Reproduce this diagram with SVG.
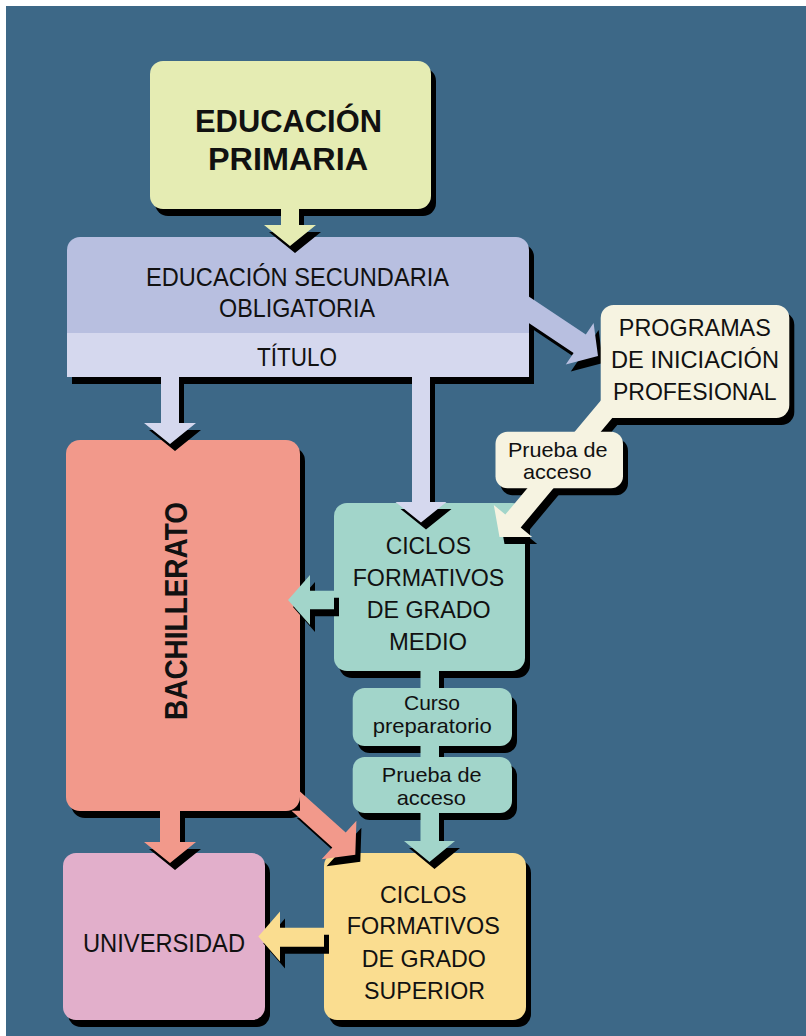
<svg xmlns="http://www.w3.org/2000/svg" width="806" height="1036" viewBox="0 0 806 1036">
<style>
text{font-family:"Liberation Sans",Arial,Helvetica,sans-serif;fill:#111;text-anchor:middle}
.b{font-weight:bold}
.sh{fill:#000}
.s32{font-size:32px}
.s26{font-size:26.5px}
.s25{font-size:25.5px}
.s24{font-size:24.5px}
.s21{font-size:21px}
.prim{fill:#E5ECB3}
.lavd{fill:#B8BFE0}
.lavl{fill:#D5D8EE}
.crm{fill:#F6F3E1}
.teal{fill:#A2D5CA}
.salm{fill:#F2998B}
.pink{fill:#E2AFCB}
.yell{fill:#FADD90}
</style>
<defs>
<polygon id="a1" points="281,209 299,209 299,225 316,225 290,246 264,225 281,225"/>
<polygon id="a2" points="161,377 179,377 179,423 196,423 170,444 144,423 161,423"/>
<polygon id="a3" points="412,377 430,377 430,502 446.5,502 421,522.5 395.5,502 412,502"/>
<polygon id="a4" points="334,590.7 334,609.3 310,609.3 310,625 288,600 310,575 310,590.7"/>
<polygon id="a5" points="420.5,671 439,671 439,841 455,841 429.5,862 404,841 420.5,841"/>
<polygon id="a6" points="324,927.7 324,946.7 280,946.7 280,961.5 258.3,936.5 280,911.5 280,927.7"/>
<polygon id="a7" points="160,811 180,811 180,842 196,842 170,863 144,842 160,842"/>
<polygon id="a8" points="300,791.5 345.7,832.6 356.4,820.7 355.3,854.7 321.6,859.3 332.3,847.4 291.5,810.7 300,810.7"/>
<polygon id="a9" points="528,296 585.8,334.6 593.6,323 598,356 565.8,364.6 573.6,353 528,322.6"/>
<polygon id="a10" points="605.4,395 631.5,395 520.7,527.4 532.2,537.1 499.5,537.1 493.8,505 505.3,514.6"/>
</defs>
<rect x="0" y="0" width="806" height="1036" fill="#fff"/>
<rect x="6" y="6" width="800" height="1030" fill="#3D6887"/>
<g id="shadows" class="sh" transform="translate(5,7)">
<rect x="150" y="61" width="281" height="148" rx="13"/>
<path d="M67,250 A13,13 0 0 1 80,237 H516 A13,13 0 0 1 529,250 V377 H67 Z"/>
<rect x="66" y="440" width="234" height="371" rx="14"/>
<rect x="334" y="503" width="191" height="168" rx="13"/>
<rect x="63" y="853" width="202" height="167" rx="13"/>
<rect x="324" y="853" width="202" height="167" rx="13"/>
<rect x="600.7" y="305" width="188.6" height="113" rx="13"/>
<rect x="495.5" y="431.7" width="127.5" height="56.5" rx="12"/>
<rect x="352.7" y="688" width="159.3" height="58" rx="12"/>
<rect x="352.7" y="757" width="159.3" height="56" rx="12"/>
</g>
<g id="primaria">
<rect class="prim" x="150" y="61" width="281" height="148" rx="13"/>
<text class="b s32" x="288.5" y="132" textLength="187" lengthAdjust="spacingAndGlyphs">EDUCACIÓN</text>
<text class="b s32" x="288" y="170" textLength="160" lengthAdjust="spacingAndGlyphs">PRIMARIA</text>
</g>
<g id="eso">
<path class="lavd" d="M67,250 A13,13 0 0 1 80,237 H516 A13,13 0 0 1 529,250 V377 H67 Z"/>
<rect class="lavl" x="67" y="333" width="462" height="44"/>
<text class="s26" x="297.5" y="286" textLength="303" lengthAdjust="spacingAndGlyphs">EDUCACIÓN SECUNDARIA</text>
<text class="s26" x="297" y="317" textLength="156" lengthAdjust="spacingAndGlyphs">OBLIGATORIA</text>
<text class="s26" x="297" y="366" textLength="80" lengthAdjust="spacingAndGlyphs">TÍTULO</text>
</g>
<g id="bachillerato">
<rect class="salm" x="66" y="440" width="234" height="371" rx="14"/>
<text class="b s32" transform="translate(187,611) rotate(-90)" x="0" y="0" textLength="218" lengthAdjust="spacingAndGlyphs">BACHILLERATO</text>
</g>
<g id="ciclos-medio">
<rect class="teal" x="334" y="503" width="191" height="168" rx="13"/>
<text class="s24" x="428.3" y="554" textLength="85.3" lengthAdjust="spacingAndGlyphs">CICLOS</text>
<text class="s24" x="428.5" y="586" textLength="151.6" lengthAdjust="spacingAndGlyphs">FORMATIVOS</text>
<text class="s24" x="428.7" y="618" textLength="124" lengthAdjust="spacingAndGlyphs">DE GRADO</text>
<text class="s24" x="428" y="650" textLength="78" lengthAdjust="spacingAndGlyphs">MEDIO</text>
</g>
<g id="universidad">
<rect class="pink" x="63" y="853" width="202" height="167" rx="13"/>
<text class="s25" x="164" y="952" textLength="162" lengthAdjust="spacingAndGlyphs">UNIVERSIDAD</text>
</g>
<g id="ciclos-superior">
<rect class="yell" x="324" y="853" width="202" height="167" rx="13"/>
<text class="s24" x="423.3" y="903" textLength="86.7" lengthAdjust="spacingAndGlyphs">CICLOS</text>
<text class="s24" x="423.3" y="934" textLength="153" lengthAdjust="spacingAndGlyphs">FORMATIVOS</text>
<text class="s24" x="423.8" y="967" textLength="124" lengthAdjust="spacingAndGlyphs">DE GRADO</text>
<text class="s24" x="424.5" y="998.5" textLength="121" lengthAdjust="spacingAndGlyphs">SUPERIOR</text>
</g>
<g id="connectors">
<use href="#a1" class="sh" transform="translate(5,7)"/><use href="#a1" class="prim"/>
<use href="#a2" class="sh" transform="translate(5,7)"/><use href="#a2" class="lavl"/>
<use href="#a3" class="sh" transform="translate(5,7)"/><use href="#a3" class="lavl"/>
<use href="#a9" class="sh" transform="translate(5,7)"/><use href="#a9" class="lavd"/>
<use href="#a10" class="sh" transform="translate(5,7)"/><use href="#a10" class="crm"/>
<use href="#a4" class="sh" transform="translate(5,7)"/><use href="#a4" class="teal"/>
<use href="#a5" class="sh" transform="translate(5,7)"/><use href="#a5" class="teal"/>
<use href="#a7" class="sh" transform="translate(5,7)"/><use href="#a7" class="salm"/>
<use href="#a8" class="sh" transform="translate(5,7)"/><use href="#a8" class="salm"/>
<use href="#a6" class="sh" transform="translate(5,7)"/><use href="#a6" class="yell"/>
</g>
<g id="programas">
<rect class="crm" x="600.7" y="305" width="188.6" height="113" rx="13"/>
<text class="s24" x="694.8" y="336" textLength="152" lengthAdjust="spacingAndGlyphs">PROGRAMAS</text>
<text class="s24" x="695" y="368" textLength="168" lengthAdjust="spacingAndGlyphs">DE INICIACIÓN</text>
<text class="s24" x="694.8" y="400" textLength="163.7" lengthAdjust="spacingAndGlyphs">PROFESIONAL</text>
</g>
<g id="prueba-acceso-pip">
<rect class="crm" x="495.5" y="431.7" width="127.5" height="56.5" rx="12"/>
<text class="s21" x="557.8" y="456.7" textLength="99.7" lengthAdjust="spacingAndGlyphs">Prueba de</text>
<text class="s21" x="557.3" y="479" textLength="68.7" lengthAdjust="spacingAndGlyphs">acceso</text>
</g>
<g id="curso-preparatorio">
<rect class="teal" x="352.7" y="688" width="159.3" height="58" rx="12"/>
<text class="s21" x="432" y="710" textLength="56" lengthAdjust="spacingAndGlyphs">Curso</text>
<text class="s21" x="432.2" y="733.3" textLength="119" lengthAdjust="spacingAndGlyphs">preparatorio</text>
</g>
<g id="prueba-acceso-gm">
<rect class="teal" x="352.7" y="757" width="159.3" height="56" rx="12"/>
<text class="s21" x="431.7" y="781.7" textLength="100" lengthAdjust="spacingAndGlyphs">Prueba de</text>
<text class="s21" x="431.3" y="805" textLength="69.3" lengthAdjust="spacingAndGlyphs">acceso</text>
</g>
</svg>
